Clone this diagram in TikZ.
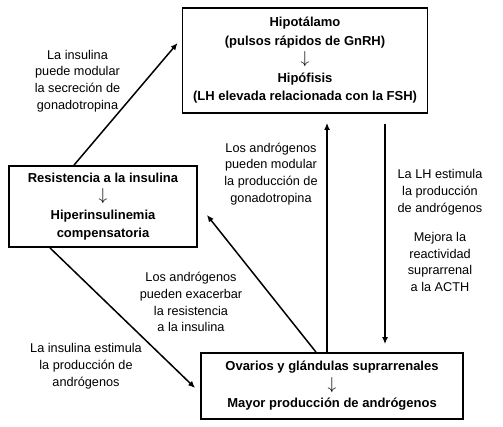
\documentclass[tikz,border=0pt]{standalone}
\usepackage{fontspec}
\setmainfont{Liberation Sans}
\usetikzlibrary{arrows.meta}

\newcommand{\boxarrow}{{\fontsize{17}{18.5}\selectfont$\downarrow$}}

\begin{document}
\begin{tikzpicture}[x=1pt, y=-1pt, >={Latex[length=7pt,width=6pt]},
    box/.style={draw, line width=1.8pt, align=center, inner sep=0pt,
        font=\fontsize{13}{18.5}\selectfont\bfseries},
    note/.style={align=center, inner sep=0pt, font=\fontsize{12.7}{16.8}\selectfont},
    link/.style={->, line width=1.5pt}]

\useasboundingbox (0,0) rectangle (503,426);

% boxes
\node[box, minimum width=245pt, minimum height=105pt] (hipo) at (305,60.5)
    {Hipotálamo\\(pulsos rápidos de GnRH)\\\boxarrow\\Hipófisis\\(LH elevada relacionada con la FSH)};
\node[box, minimum width=188pt, minimum height=81pt] (resis) at (103,206.5)
    {Resistencia a la insulina\\\boxarrow\\Hiperinsulinemia\\compensatoria};
\node[box, minimum width=262pt, minimum height=66pt] (ovar) at (332,386)
    {Ovarios y glándulas suprarrenales\\\boxarrow\\Mayor producción de andrógenos};

% labels
\node[note] (modgn) at (77.5,81) {La insulina\\puede modular\\la secreción de\\gonadotropina};
\node[note] (modan) at (271,174) {Los andrógenos\\pueden modular\\la producción de\\gonadotropina};
\node[note] (lhest) at (440,192) {La LH estimula\\la producción\\de andrógenos};
\node[note] (acth) at (440,262) {Mejora la\\reactividad\\suprarrenal\\a la ACTH};
\node[note] (exac) at (191,302) {Los andrógenos\\pueden exacerbar\\la resistencia\\a la insulina};
\node[note] (insest) at (86,366) {La insulina estimula\\la producción de\\andrógenos};

% arrows
\draw[link] ([shift={(-29,0)}]resis.north) -- ([shift={(-4,-17.5)}]hipo.west);
\draw[link] ([shift={(-5,0)}]ovar.north) -- ([shift={(22,9)}]hipo.south);
\draw[link] ([shift={(80,10)}]hipo.south) -- ([shift={(53,-8)}]ovar.north);
\draw[link] ([shift={(-16,0)}]ovar.north) -- ([shift={(9,8.5)}]resis.east);
\draw[link] ([shift={(-53,0)}]resis.south) -- ([shift={(-5,2)}]ovar.west);

\end{tikzpicture}
\end{document}
